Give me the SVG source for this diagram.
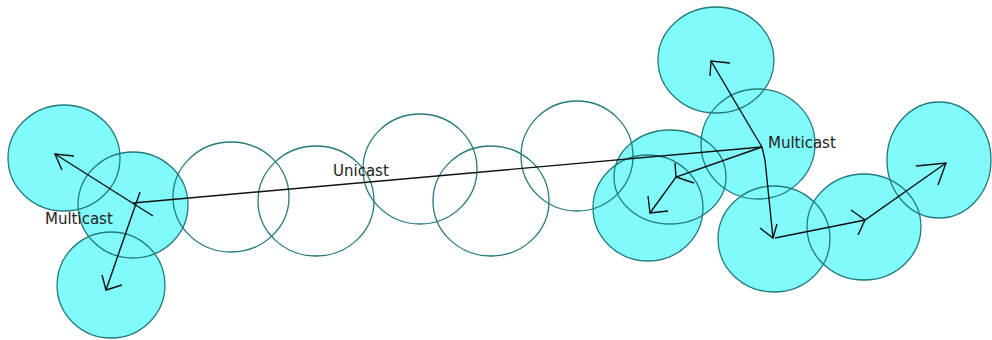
<svg xmlns="http://www.w3.org/2000/svg" width="992" height="340" viewBox="0 0 992 340">
<style>
.fill{fill:#80fafa;stroke:none}
.ring{fill:none;stroke:#247a7a;stroke-width:1.3}
.ln{fill:none;stroke:#111;stroke-width:1.4;stroke-linejoin:miter}
.lbl{font-family:"DejaVu Sans",sans-serif;font-size:15px;fill:#222}
</style>
<rect width="992" height="340" fill="#fff"/>
<g id="nodes">
<g id="nA"><ellipse class="fill" cx="64" cy="158" rx="56" ry="53"/></g>
<g id="nB"><ellipse class="fill" cx="133" cy="205" rx="55" ry="53"/></g>
<g id="nC"><ellipse class="fill" cx="111" cy="285" rx="54" ry="53"/></g>
<g id="nD"><ellipse class="fill" cx="231" cy="197" rx="58" ry="55" style="fill:none"/></g>
<g id="nE"><ellipse class="fill" cx="316" cy="201" rx="58" ry="55" style="fill:none"/></g>
<g id="nF"><ellipse class="fill" cx="420" cy="169" rx="57" ry="55" style="fill:none"/></g>
<g id="nG"><ellipse class="fill" cx="491" cy="201" rx="58" ry="55" style="fill:none"/></g>
<g id="nH"><ellipse class="fill" cx="577" cy="156" rx="56" ry="55" style="fill:none"/></g>
<g id="nI"><ellipse class="fill" cx="716" cy="60" rx="58" ry="53"/></g>
<g id="nJ"><ellipse class="fill" cx="758" cy="144" rx="57" ry="55"/></g>
<g id="nL"><ellipse class="fill" cx="648" cy="208" rx="55" ry="53"/></g>
<g id="nK"><ellipse class="fill" cx="670" cy="177" rx="56" ry="47"/></g>
<g id="nM"><ellipse class="fill" cx="774" cy="239" rx="56" ry="53"/></g>
<g id="nN"><ellipse class="fill" cx="864" cy="227" rx="57" ry="53"/></g>
<g id="nO"><ellipse class="fill" cx="939" cy="160" rx="52" ry="58"/></g>
</g>
<g id="outlines">
<ellipse class="ring" cx="64" cy="158" rx="56" ry="53"/>
<ellipse class="ring" cx="133" cy="205" rx="55" ry="53"/>
<ellipse class="ring" cx="111" cy="285" rx="54" ry="53"/>
<ellipse class="ring" cx="231" cy="197" rx="58" ry="55"/>
<ellipse class="ring" cx="316" cy="201" rx="58" ry="55"/>
<ellipse class="ring" cx="420" cy="169" rx="57" ry="55"/>
<ellipse class="ring" cx="491" cy="201" rx="58" ry="55"/>
<ellipse class="ring" cx="577" cy="156" rx="56" ry="55"/>
<ellipse class="ring" cx="716" cy="60" rx="58" ry="53"/>
<ellipse class="ring" cx="758" cy="144" rx="57" ry="55"/>
<ellipse class="ring" cx="648" cy="208" rx="55" ry="53"/>
<ellipse class="ring" cx="670" cy="177" rx="56" ry="47"/>
<ellipse class="ring" cx="774" cy="239" rx="56" ry="53"/>
<ellipse class="ring" cx="864" cy="227" rx="57" ry="53"/>
<ellipse class="ring" cx="939" cy="160" rx="52" ry="58"/>
</g>
<g id="connectors">
<path class="ln" d="M133,203 L762,147"/>
<path class="ln" d="M153,216 L55,154"/>
<path class="ln" d="M74,156 L55,154 L62,170"/>
<path class="ln" d="M140,192 L106,290"/>
<path class="ln" d="M102,275 L106,290 L122,285"/>
<path class="ln" d="M762,147 L753,132 L711,61"/>
<path class="ln" d="M730,63 L711,61 L710,76"/>
<path class="ln" d="M762,147 L765,160 L773,238"/>
<path class="ln" d="M760,228 L773,238 L777,224"/>
<path class="ln" d="M775,238 L865,220 L946,163"/>
<path class="ln" d="M851,210 L865,220 L858,235"/>
<path class="ln" d="M916,166 L946,163 L938,185"/>
<path class="ln" d="M762,147 L676,177 L650,213"/>
<path class="ln" d="M675,163 L676,177 L694,183"/>
<path class="ln" d="M648,196 L650,213 L668,211"/>
</g>
<g id="labels">
<text class="lbl" x="333" y="176">Unicast</text>
<text class="lbl" x="45" y="224">Multicast</text>
<text class="lbl" x="768" y="148">Multicast</text>
</g>
</svg>
